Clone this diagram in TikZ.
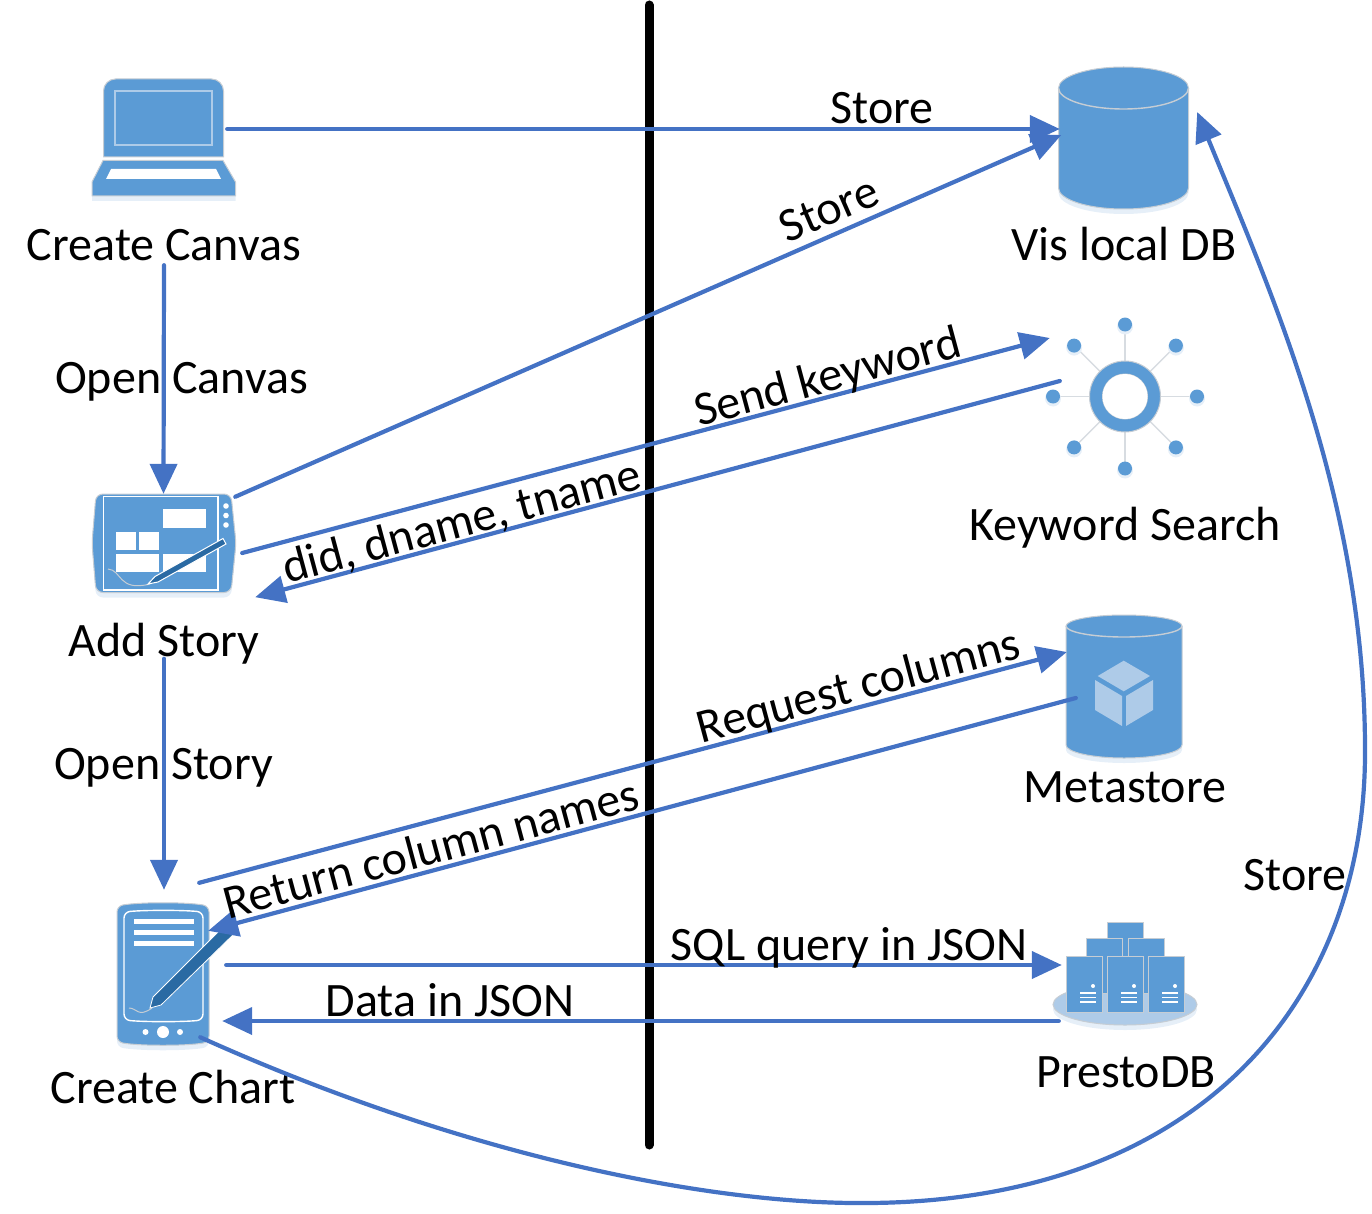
\documentclass[tikz,border=0pt]{standalone}
\usepackage{fontspec}
\setmainfont{Carlito}
\usetikzlibrary{calc,arrows.meta}
\definecolor{wireblue}{HTML}{4472C4}
\definecolor{iconblue}{HTML}{5B9BD5}
\definecolor{iconlight}{HTML}{AECBE8}
\definecolor{icondark}{HTML}{2A6AA3}
\definecolor{iconedge}{HTML}{C6CDD4}
\definecolor{iconshade}{HTML}{E6EFF8}

\begin{document}
\begin{tikzpicture}[
            x=1pt, y=-1pt,
            spot/.style={draw=none, inner sep=0pt, minimum width=#1},
            caption/.style={inner sep=0pt, text height=32pt, text depth=4pt, font=\fontsize{48}{56}\selectfont},
            linklabel/.style={inner sep=0pt, font=\fontsize{48}{56}\selectfont},
            wire/.style={draw=wireblue, line width=4.2pt, line cap=round, -{Triangle[length=30pt,width=27pt]}},
            part/.style={fill=iconblue, draw=iconedge, line width=1pt},
            body/.style={part, preaction={fill=iconshade, transform canvas={yshift=-5pt}}},
            whitepart/.style={fill=white, draw=none},
            thinline/.style={draw=#1, line width=1.4pt},
        ]
            \useasboundingbox (0, 0) rectangle (1372, 1214);
            %% divider
            \draw[line width=9pt, line cap=round] (649, 5) -- (649, 1145);
            %% icon places
            \node[spot=144pt, minimum height=118pt] at (164, 138) (laptop) {};
            \node[spot=141pt, minimum height=99pt] at (163.5, 543.5) (tablet) {};
            \node[spot=92pt, minimum height=142pt] at (163, 974) (phone) {};
            \node[spot=130pt, minimum height=143pt] at (1123.5, 138) (visdb) {};
            \node[spot=158pt, minimum height=158pt] at (1125, 396.5) (keyword) {};
            \node[spot=116pt, minimum height=143pt] at (1124, 686.5) (metastore) {};
            \node[spot=144pt, minimum height=103pt] at (1125, 973.5) (presto) {};
            %% laptop
            \path[part] (103.5, 157) -- (103.5, 91) arc[start angle=180, end angle=90, x radius=12, y radius=-12] -- (211.5, 79) arc[start angle=90, end angle=0, x radius=12, y radius=-12] -- (223.5, 157) -- cycle;
            \draw[thinline=iconlight] (115, 91) rectangle (212, 145);
            \path[body] (103, 160.5) -- (223, 160.5) -- (235.5, 182) -- (235.5, 196) -- (92, 196) -- (92, 182) -- cycle;
            \fill[whitepart] (111, 169) -- (216, 169) -- (221, 179) -- (106, 179) -- cycle;
            %% tablet
            \path[body, rounded corners=7pt] (96, 494) -- (231, 494) -- (236, 543) -- (231, 592.5) -- (96, 592.5) -- (92, 543) -- cycle;
            \draw[thinline=white] (103.5, 496.5) rectangle (218, 590);
            \foreach \y in {506, 515.5, 525}
                \fill[whitepart] (226, \y) circle (2.8);
            \fill[whitepart] (163, 509) rectangle (205.5, 527.5);
            \fill[whitepart] (116, 532) rectangle (136, 550);
            \fill[whitepart] (139, 532) rectangle (159, 550);
            \fill[whitepart] (116, 554) rectangle (159, 572);
            \fill[whitepart] (163, 554) rectangle (205.5, 572);
            \draw[thinline=iconedge, line width=1pt] (108, 569) .. controls (122, 570) and (118, 592) .. (150, 584);
            \fill[icondark, draw=white, line width=1pt] (148, 584) -- (155, 576.5) -- (223, 538.5) -- (226, 544) -- (158, 582) -- cycle;
            %% phone
            \path[body, rounded corners=6pt] (117, 906) .. controls (140, 902) and (186, 902) .. (209, 906) -- (209, 1042) .. controls (186, 1046) and (140, 1046) .. (117, 1042) -- cycle;
            \draw[thinline=white, rounded corners=6pt] (124, 912) .. controls (145, 910) and (182, 910) .. (203, 912) -- (203, 1020) .. controls (182, 1022) and (145, 1022) .. (124, 1020) -- cycle;
            \foreach \y in {919, 930, 941}
                \fill[whitepart] (134, \y) rectangle (194, \y + 5);
            \fill[whitepart] (145.5, 1032) circle (3);
            \fill[whitepart] (163, 1032) circle (6);
            \fill[whitepart] (180, 1032) circle (3);
            \draw[thinline=iconedge, line width=1pt] (129, 1008) .. controls (137, 1008) and (138, 1018) .. (152, 1008);
            \fill[icondark, draw=white, line width=.8pt] (150, 1008) -- (153, 997) -- (228, 922) -- (236, 932) -- (161, 1005) -- cycle;
            %% vis local db
            \path[body] (1058.5, 88) -- (1058.5, 188) arc[start angle=180, end angle=360, x radius=65, y radius=-21] -- (1188.5, 88) arc[start angle=0, end angle=180, x radius=65, y radius=-21] -- cycle;
            \draw[thinline=iconedge] (1058.5, 88) arc[start angle=180, end angle=360, x radius=65, y radius=-21];
            %% keyword search
            \foreach \a in {0, 45, ..., 315} {
                \draw[thinline=iconedge!70] (1125, 396.5) -- ++(\a:72);
                \fill[iconshade] (1125, 398.5) ++(\a:72) circle (8);
                \fill[iconblue] (1125, 396.5) ++(\a:72) circle (7);
            }
            \path[part, even odd rule] (1125, 396.5) circle (35.5) (1125, 396.5) circle (22.5);
            \fill[whitepart] (1125, 396.5) circle (22.5);
            %% metastore
            \path[body] (1066, 626) -- (1066, 745) arc[start angle=180, end angle=360, x radius=58, y radius=-13] -- (1182, 626) arc[start angle=0, end angle=180, x radius=58, y radius=-11] -- cycle;
            \draw[thinline=iconedge] (1066, 626) arc[start angle=180, end angle=360, x radius=58, y radius=-11];
            \fill[iconlight] (1123.7, 660.7) -- (1150, 676) -- (1123.7, 691.3) -- (1097.7, 676) -- cycle;
            \fill[iconlight] (1095, 680) -- (1122, 696) -- (1122, 726) -- (1095, 710) -- cycle;
            \fill[iconlight] (1126, 696) -- (1153, 680) -- (1153, 710) -- (1126, 726) -- cycle;
            %% prestodb
            \path[fill=iconlight, draw=iconedge, line width=1pt, preaction={fill=iconshade, transform canvas={yshift=-5pt}}] (1125, 1004.5) ellipse[x radius=72, y radius=20.5];
            \foreach \x/\y/\h in {1107/922/71, 1086/938/55, 1128/938/55}
                \path[part] (\x, \y) rectangle ++(36, \h);
            \foreach \x in {1066, 1107, 1148} {
                \path[part] (\x, 956) rectangle ++(36, 56);
                \fill[whitepart] (\x + 27, 986) circle (2);
                \foreach \y in {993, 997.5, 1002}
                    \fill[whitepart] (\x + 14, \y - .7) rectangle ++(16, 1.6);
            }
            %% icon captions
            \node[caption] at (164, 247) (canvastext) {Create Canvas};
            \node[caption] at (1124, 247) (visdbtext) {Vis local DB};
            \node[caption] at (1125, 526) (keywordtext) {Keyword Search};
            \node[caption] at (164, 642.5) (storytext) {Add Story};
            \node[caption] at (1125, 788) (metastoretext) {Metastore};
            \node[caption] at (173, 1089) (charttext) {Create Chart};
            \node[caption] at (1126, 1073) (prestotext) {PrestoDB};
            %% connection
            \draw[wire] ($(laptop.east) + (-9, -9)$) -- ($(visdb.west) + (1.5, -9)$);
            \draw[wire] ($(tablet.north east) + (1, 3)$) -- ($(visdb.west) + (3, -3)$);
            \draw[wire] (canvastext.south) -- (tablet.north);
            \draw[wire] ($(tablet.east) + (8, 9.5)$) -- ($(keyword.west) + (4, -58.5)$);
            \draw[wire] ($(keyword.west) + (14, -15.5)$) -- ($(tablet.south east) + (21, 4)$);
            \draw[wire] ($(storytext.south) + (0, -2)$) -- ($(phone.north) + (1, -13)$);
            \draw[wire] ($(phone.north east) + (-10, -20)$) -- ($(metastore.west) + (1, -34.5)$);
            \draw[wire] ($(metastore.west) + (10, 11.5)$) -- ($(phone.north east) + (-1, 28)$);
            \draw[wire] ($(phone.east) + (17, -9)$) -- ($(presto.west) + (9, -8.5)$);
            \draw[wire] ($(presto.west) + (6, 47.5)$) -- ($(phone.east) + (13, 47)$);
            \draw[wire] ($(phone.south east) + (-9, -8)$) .. controls (450, 1150) and (700, 1205) .. (870, 1203) .. controls (1200, 1200) and (1366, 1000) .. (1365, 750) .. controls (1365, 500) and (1270, 290) .. ($(visdb.east) + (8.5, -26)$);
            %% connection labels
            \node[linklabel] at (882, 108) (storeone) {Store};
            \node[linklabel, rotate=23.5] at (829, 209) (storetwo) {Store};
            \node[linklabel] at (181.5, 382) (opencanvas) {Open Canvas};
            \node[linklabel, rotate=15] at (828, 379) (sendkeyword) {Send keyword};
            \node[linklabel, rotate=15] at (462, 523) (didname) {did, dname, tname};
            \node[linklabel] at (163.5, 768) (openstory) {Open Story};
            \node[linklabel, rotate=15] at (859, 688) (requestcolumns) {Request columns};
            \node[linklabel, rotate=15] at (431, 848) (returncolumns) {Return column names};
            \node[linklabel] at (849, 948) (sqlquery) {SQL query in JSON};
            \node[linklabel] at (450, 1000) (datajson) {Data in JSON};
            \node[linklabel] at (1295, 875) (storethree) {Store};
        \end{tikzpicture}
\end{document}
